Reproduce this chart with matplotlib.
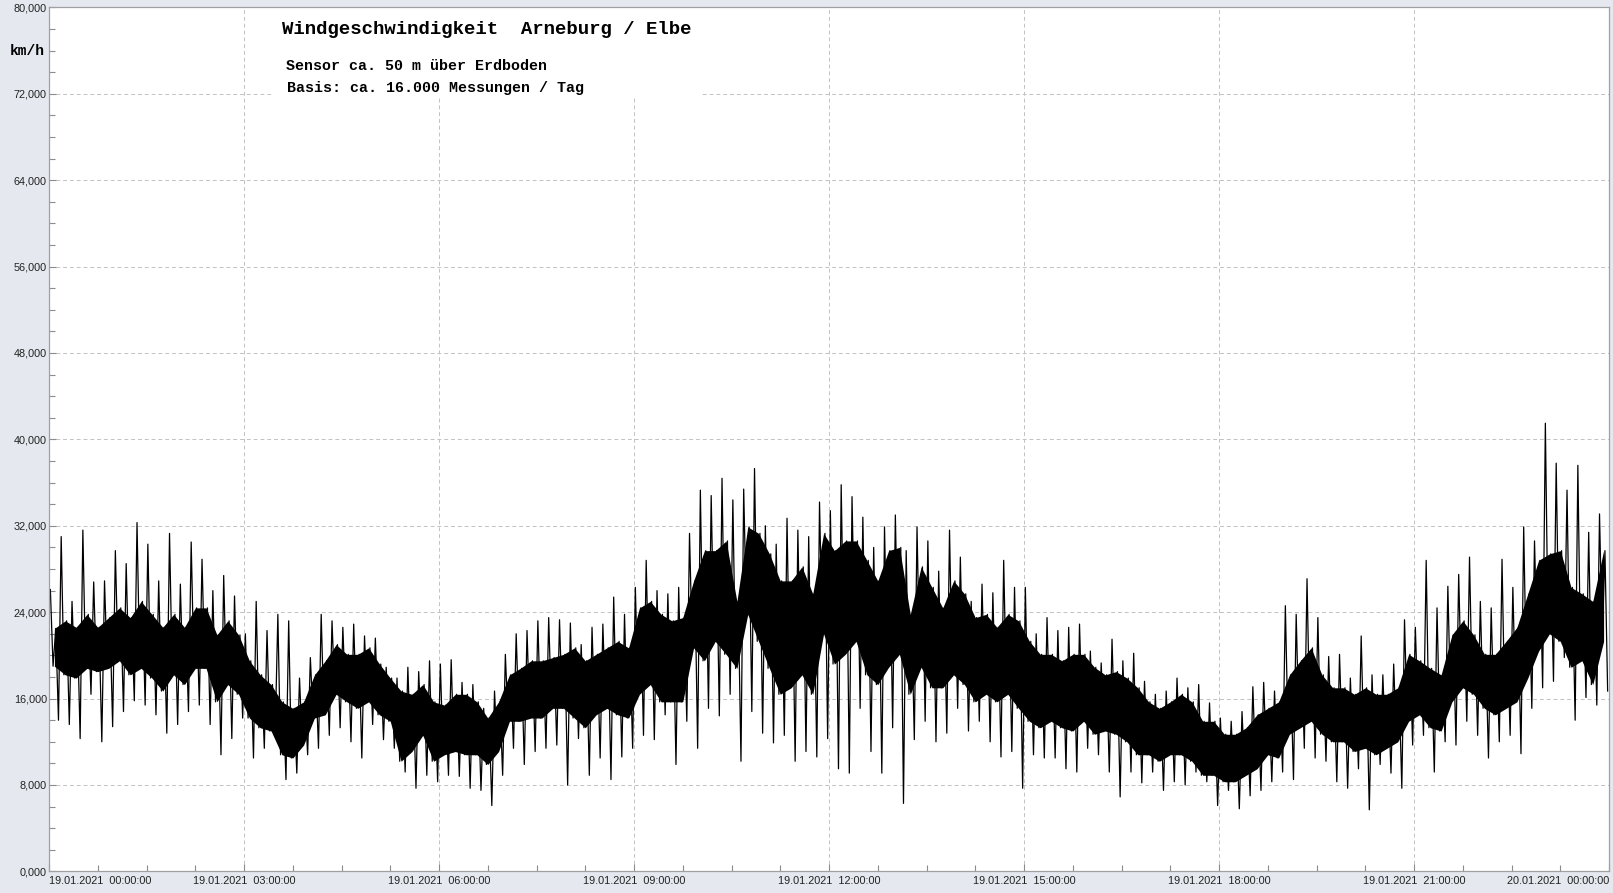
import numpy as np
import matplotlib.pyplot as plt
from matplotlib.patches import Rectangle
from matplotlib.ticker import MultipleLocator, FuncFormatter

# wind speed in km/h, read per 10-minute bin (19.01.2021 00:00 -> 20.01.2021 00:00)
# spike_hi / spike_lo = outer spikes, core_hi / core_lo = dense band
spike_hi = [
    26.1, 31.0, 25.0, 31.6, 26.8, 26.9, 29.7, 28.5, 32.3, 30.3, 26.9, 31.3,
    26.6, 30.5, 28.9, 26.0, 27.4, 25.5, 22.0, 25.0, 22.3, 23.8, 23.2, 17.9,
    19.8, 23.8, 23.2, 22.6, 22.9, 21.8, 21.6, 18.9, 17.9, 18.9, 18.5, 19.5,
    19.2, 19.6, 17.5, 17.3, 15.1, 16.7, 20.1, 22.0, 22.3, 23.2, 23.5, 23.3,
    23.0, 21.0, 22.6, 22.9, 25.4, 23.8, 26.3, 28.8, 26.0, 25.7, 26.3, 31.3,
    35.3, 34.8, 36.4, 34.4, 35.4, 37.3, 32.0, 30.3, 32.7, 31.6, 31.0, 34.2,
    33.4, 35.8, 34.7, 32.8, 30.0, 31.9, 33.0, 29.7, 31.9, 30.6, 27.8, 31.6,
    29.1, 25.0, 26.6, 25.8, 28.8, 26.3, 26.3, 22.0, 23.5, 22.3, 22.6, 22.9,
    20.4, 19.3, 21.5, 19.5, 20.2, 17.6, 16.4, 16.7, 17.9, 17.0, 17.3, 15.6,
    14.2, 13.9, 14.8, 17.1, 17.5, 16.7, 24.6, 23.8, 27.1, 23.5, 19.9, 20.1,
    17.9, 21.8, 18.2, 18.2, 19.2, 23.3, 22.6, 28.8, 24.4, 26.4, 27.5, 29.1,
    25.0, 24.4, 28.9, 26.3, 31.9, 30.6, 41.5, 37.8, 35.3, 37.6, 31.4, 33.1,
]
core_hi = [
    22.5, 23.2, 22.6, 23.8, 22.6, 23.5, 24.4, 23.5, 25.0, 23.8, 22.6, 23.8,
    22.6, 24.4, 24.4, 21.9, 23.2, 21.9, 19.5, 18.2, 17.3, 15.7, 15.1, 15.7,
    18.2, 19.5, 21.0, 20.1, 20.1, 20.7, 19.2, 17.9, 16.7, 16.4, 17.3, 15.7,
    15.4, 16.4, 16.4, 15.7, 14.2, 15.7, 18.2, 18.8, 19.5, 19.5, 19.8, 20.1,
    20.7, 19.5, 20.1, 20.7, 21.3, 20.7, 24.4, 25.0, 23.8, 23.2, 23.5, 26.9,
    29.7, 29.7, 30.6, 25.0, 31.9, 31.3, 29.4, 26.9, 26.9, 28.2, 25.7, 31.3,
    29.7, 30.6, 30.6, 28.8, 26.9, 29.7, 30.0, 23.8, 28.2, 26.3, 24.4, 26.9,
    25.7, 23.5, 23.8, 22.6, 23.8, 23.2, 21.3, 20.1, 20.1, 19.5, 20.1, 20.1,
    18.9, 18.2, 18.5, 17.9, 17.0, 15.7, 15.1, 15.7, 16.4, 15.7, 13.9, 13.9,
    12.7, 12.7, 13.3, 14.5, 15.1, 15.7, 18.2, 19.5, 20.7, 18.2, 17.0, 17.0,
    16.4, 17.0, 16.4, 16.4, 17.0, 20.1, 19.5, 18.8, 18.2, 21.9, 23.2, 21.9,
    20.1, 20.1, 21.3, 22.6, 25.7, 28.8, 29.4, 29.7, 26.3, 25.7, 25.0, 29.7,
]
core_lo = [
    19.0, 18.2, 17.9, 18.8, 18.5, 18.8, 19.5, 18.2, 18.8, 17.9, 16.7, 18.2,
    17.3, 18.8, 18.8, 15.7, 17.3, 16.4, 14.2, 13.3, 13.0, 10.8, 10.5, 11.7,
    14.2, 14.5, 16.4, 15.7, 15.1, 15.7, 14.5, 13.9, 10.2, 11.1, 12.6, 10.2,
    10.8, 11.1, 10.8, 10.8, 9.9, 11.1, 13.9, 13.9, 14.2, 14.2, 15.1, 15.1,
    14.2, 13.3, 14.5, 15.1, 14.5, 14.2, 16.4, 17.3, 15.7, 15.7, 15.7, 20.7,
    19.5, 21.3, 20.1, 18.8, 23.8, 21.3, 18.8, 16.4, 17.0, 18.2, 16.4, 22.0,
    19.2, 20.1, 21.3, 18.2, 17.3, 18.9, 20.1, 16.4, 18.9, 17.0, 17.0, 18.2,
    17.3, 15.7, 16.4, 15.7, 16.4, 15.1, 13.9, 13.3, 13.9, 13.3, 13.0, 13.9,
    12.7, 13.0, 12.7, 12.0, 10.8, 10.8, 10.2, 10.8, 10.8, 10.2, 8.9, 8.9,
    8.3, 8.3, 8.9, 9.5, 10.8, 10.5, 12.7, 13.3, 13.9, 12.7, 12.0, 12.0,
    11.1, 11.4, 10.8, 11.4, 12.0, 13.9, 14.5, 13.3, 13.0, 15.7, 17.0, 16.4,
    15.1, 14.5, 15.1, 15.7, 17.9, 20.4, 22.0, 21.3, 18.9, 19.5, 17.3, 21.3,
]
spike_lo = [
    14.0, 13.6, 12.3, 16.4, 12.0, 13.4, 14.8, 15.8, 15.4, 14.5, 12.8, 13.6,
    14.8, 15.4, 13.6, 10.8, 12.3, 14.2, 10.5, 11.4, 12.6, 8.5, 9.1, 10.8,
    11.4, 12.6, 13.3, 12.0, 10.5, 13.6, 12.2, 11.4, 9.2, 7.7, 8.9, 8.3,
    8.9, 8.8, 7.7, 7.5, 6.1, 8.9, 11.4, 9.9, 11.1, 11.4, 11.7, 8.0,
    12.3, 8.9, 10.5, 8.5, 10.6, 11.4, 12.6, 12.2, 14.5, 9.9, 13.9, 11.4,
    15.1, 14.4, 16.4, 10.2, 14.8, 12.8, 11.9, 12.6, 10.2, 11.1, 10.6, 12.3,
    9.5, 9.1, 15.1, 11.1, 9.1, 13.3, 6.3, 12.2, 13.9, 12.0, 12.8, 15.1,
    13.0, 13.9, 12.0, 10.6, 11.1, 7.7, 10.8, 10.5, 10.5, 9.5, 9.2, 11.4,
    10.8, 9.2, 6.9, 9.2, 8.2, 9.2, 7.5, 8.3, 8.0, 9.2, 8.3, 6.1,
    7.5, 5.8, 7.0, 7.5, 8.3, 9.2, 8.5, 11.4, 10.5, 10.2, 8.3, 7.7,
    9.5, 5.7, 9.9, 9.1, 7.7, 11.7, 12.6, 9.2, 12.0, 11.7, 13.9, 12.6,
    10.5, 12.0, 12.6, 10.9, 15.1, 17.0, 17.6, 19.8, 14.0, 16.1, 15.4, 16.7,
]

x_labels = [
    "19.01.2021  00:00:00", "19.01.2021  03:00:00", "19.01.2021  06:00:00",
    "19.01.2021  09:00:00", "19.01.2021  12:00:00", "19.01.2021  15:00:00",
    "19.01.2021  18:00:00", "19.01.2021  21:00:00", "20.01.2021  00:00:00",
]
title = "Windgeschwindigkeit  Arneburg / Elbe"
subtitle_1 = "Sensor ca. 50 m über Erdboden"
subtitle_2 = "Basis: ca. 16.000 Messungen / Tag"

n = len(spike_hi)
t_bin = (np.arange(n) + 0.5) / 6          # bin centres in hours
offs = np.array([0.125, 0.375, 0.625, 0.875])
t1 = ((np.arange(n)[:, None] + offs) / 6).ravel()
v1 = np.column_stack([spike_hi, core_lo, core_hi, spike_lo]).ravel()

W, H = 1613, 893
fig = plt.figure(figsize=(W / 100, H / 100), dpi=100, facecolor='#e5e9ef')
ax = fig.add_axes([49 / W, 1 - 871.4 / H, 1560 / W, 864 / H])
ax.set_facecolor('white')
ax.set_axisbelow(True)

ax.fill_between(t_bin, core_lo, core_hi, color='black', lw=0, zorder=2)
ax.plot(t1, v1, color='black', lw=0.9, zorder=2)

ax.set_xlim(0, 24)
ax.set_ylim(0, 80)
ax.set_xticks(np.arange(0, 25, 3))
ax.set_xticklabels(x_labels)
ax.xaxis.set_minor_locator(MultipleLocator(0.75))
ax.yaxis.set_major_locator(MultipleLocator(8))
ax.yaxis.set_minor_locator(MultipleLocator(2))
ax.yaxis.set_major_formatter(FuncFormatter(lambda y, p: f"{y:.3f}".replace('.', ',')))

tl = ax.get_xticklabels()
tl[0].set_ha('left')
tl[-1].set_ha('right')

for lab in ax.get_xticklabels() + ax.get_yticklabels():
    lab.set_fontfamily('Liberation Sans')
ax.tick_params(which='both', direction='in', color='#8c8c8c', labelsize=7.8,
               labelcolor='#222222', width=0.8)
ax.tick_params(which='major', length=5)
ax.tick_params(which='minor', length=4)
ax.tick_params(axis='y', pad=1.5)
ax.tick_params(axis='x', pad=3)

ax.grid(True, which='major', color='#c2c2c2', linestyle=(0, (4, 3)), linewidth=0.7)
for s in ax.spines.values():
    s.set_color('#a0a0a0')
    s.set_linewidth(0.9)

# white box behind the heading
ax.add_patch(Rectangle((272 / W, 1 - 96 / H), (700 - 272) / W, (96 - 7) / H,
                       transform=fig.transFigure, facecolor='white',
                       edgecolor='none', zorder=1))

fig.text(282 / W, 1 - 30 / H, title, family='Liberation Mono', weight='bold',
         size=13.7, va='center', color='black')
fig.text(286 / W, 1 - 66 / H, subtitle_1, family='Liberation Mono', weight='bold',
         size=10.8, va='center', color='black')
fig.text(287 / W, 1 - 88 / H, subtitle_2, family='Liberation Mono', weight='bold',
         size=10.8, va='center', color='black')
fig.text(10 / W, 1 - 51 / H, "km/h", family='Liberation Mono', weight='bold',
         size=10.5, va='center', color='black')

fig.savefig('out.png', dpi=100, facecolor=fig.get_facecolor())
